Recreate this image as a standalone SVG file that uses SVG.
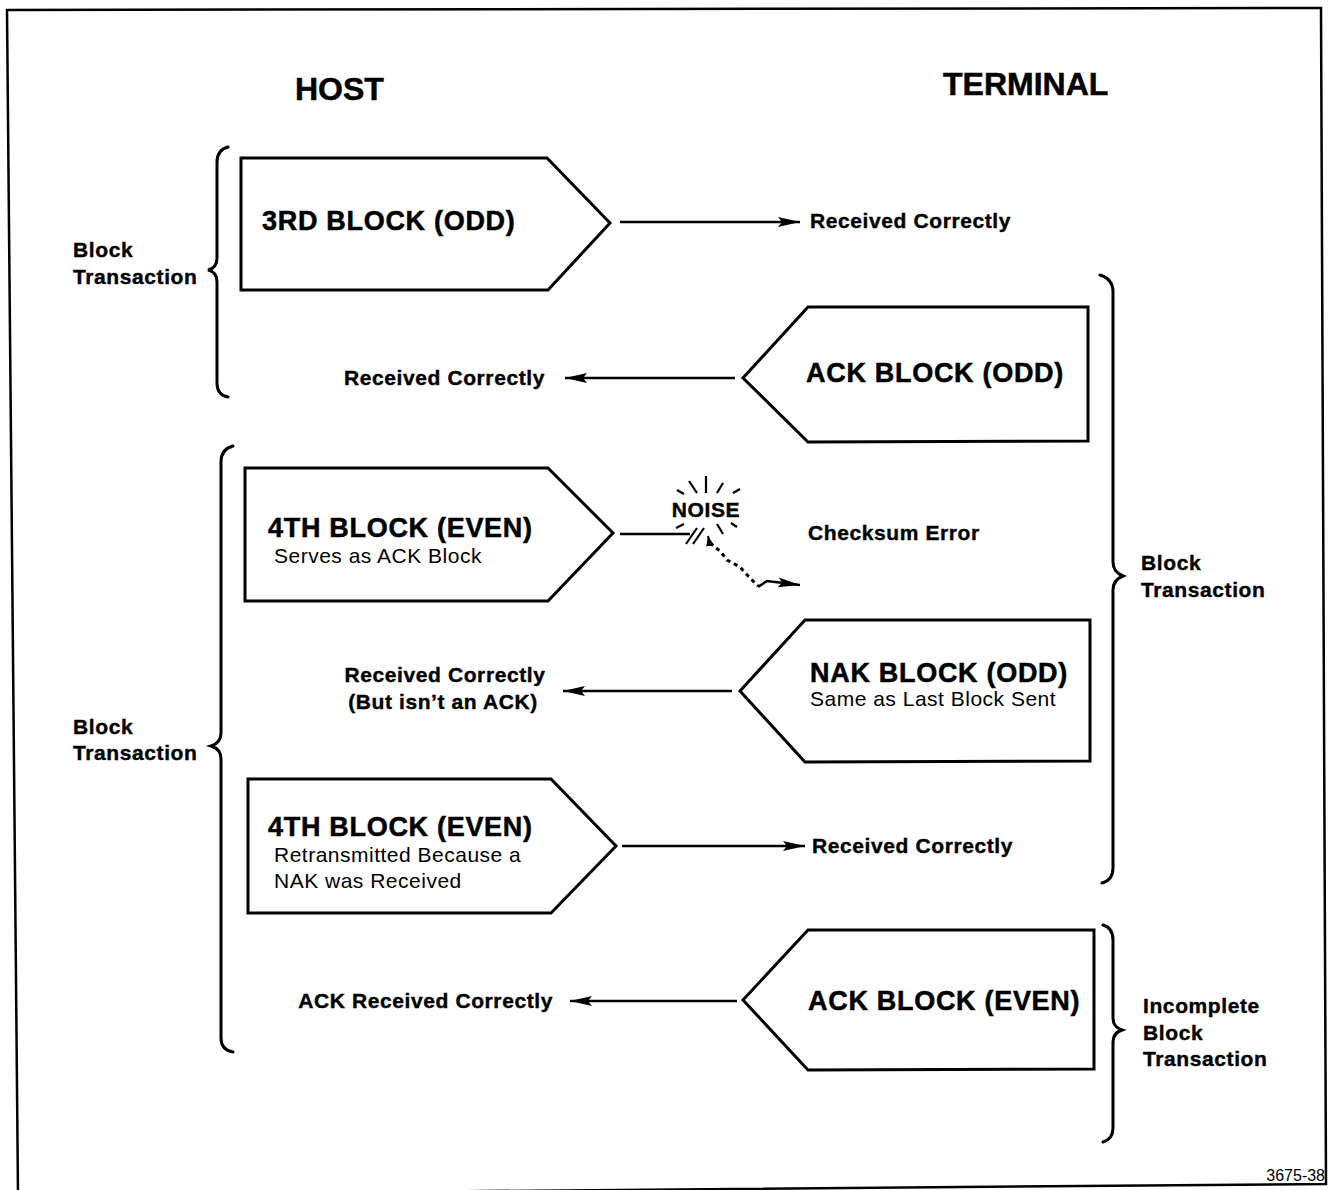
<svg xmlns="http://www.w3.org/2000/svg" width="1332" height="1190" viewBox="0 0 1332 1190">
<style>
.node{fill:#fff;stroke:#000;stroke-width:3;stroke-linejoin:miter}
.t1{font-family:"Liberation Sans",Arial,sans-serif;font-weight:bold;font-size:27px;letter-spacing:0.7px;fill:#000;stroke:#000;stroke-width:0.5}
.t2{font-family:"Liberation Sans",Arial,sans-serif;font-size:21px;letter-spacing:0.5px;fill:#000}
.lab{font-family:"Liberation Sans",Arial,sans-serif;font-weight:bold;font-size:21px;letter-spacing:0.6px;fill:#000;stroke:#000;stroke-width:0.4}
.hdr{font-family:"Liberation Sans",Arial,sans-serif;font-weight:bold;font-size:32px;fill:#000;stroke:#000;stroke-width:0.5}
.conn{stroke:#000;stroke-width:2.5;fill:none}
.brace{stroke:#000;stroke-width:3;fill:none;stroke-linecap:round}
.ray{stroke:#000;stroke-width:2.2;fill:none}
</style>
<defs>
<marker id="ah" markerUnits="userSpaceOnUse" markerWidth="24" markerHeight="12" refX="22" refY="5" orient="auto">
<path d="M0,0 L22,5 L0,10 L4,5 z" fill="#000"/>
</marker>
<marker id="ahs" markerUnits="userSpaceOnUse" markerWidth="12" markerHeight="10" refX="10" refY="4" orient="auto">
<path d="M0,0 L10,4 L0,8 z" fill="#000"/>
</marker>
</defs>
<rect width="1332" height="1190" fill="#fff"/>
<g id="frame">
<path d="M18,1195 L7,10 L1321,8 L1326,1184 L18,1195" fill="none" stroke="#000" stroke-width="2.5"/>
</g>
<g id="headers">
<text class="hdr" x="295" y="100">HOST</text>
<text class="hdr" x="943" y="95">TERMINAL</text>
</g>
<g id="host-3rd-block">
<path class="node" d="M241,158 L547,158 L610,223 L548,290 L241,290 Z"/>
<text class="t1" x="262" y="230">3RD BLOCK (ODD)</text>
</g>
<g id="term-ack-odd">
<path class="node" d="M808,307 L1088,307 L1088,441 L808,442 L743,378 Z"/>
<text class="t1" x="806" y="382">ACK BLOCK (ODD)</text>
</g>
<g id="host-4th-block-1">
<path class="node" d="M245,468 L548,468 L613,533 L548,601 L245,601 Z"/>
<text class="t1" x="268" y="537">4TH BLOCK (EVEN)</text>
<text class="t2" x="274" y="563">Serves as ACK Block</text>
</g>
<g id="term-nak-odd">
<path class="node" d="M805,620 L1090,620 L1090,761 L805,762 L740,691 Z"/>
<text class="t1" x="810" y="682">NAK BLOCK (ODD)</text>
<text class="t2" x="810" y="706">Same as Last Block Sent</text>
</g>
<g id="host-4th-block-2">
<path class="node" d="M248,779 L551,779 L616,846 L551,913 L248,913 Z"/>
<text class="t1" x="268" y="836">4TH BLOCK (EVEN)</text>
<text class="t2" x="274" y="862">Retransmitted Because a</text>
<text class="t2" x="274" y="888">NAK was Received</text>
</g>
<g id="term-ack-even">
<path class="node" d="M808,930 L1094,930 L1094,1069 L808,1070 L743,1000 Z"/>
<text class="t1" x="808" y="1010">ACK BLOCK (EVEN)</text>
</g>
<g id="connectors">
<line class="conn" x1="620" y1="222" x2="800" y2="222" marker-end="url(#ah)"/>
<line class="conn" x1="735" y1="378" x2="565" y2="378" marker-end="url(#ah)"/>
<line class="conn" x1="620" y1="534" x2="690" y2="534"/>
<line class="conn" x1="732" y1="691" x2="563" y2="691" marker-end="url(#ah)"/>
<line class="conn" x1="622" y1="846" x2="805" y2="846" marker-end="url(#ah)"/>
<line class="conn" x1="737" y1="1001" x2="570" y2="1001" marker-end="url(#ah)"/>
<line class="ray" x1="686" y1="544" x2="697" y2="528"/>
<line class="ray" x1="693" y1="544" x2="704" y2="528"/>
<path d="M758,587 L767,581 L800,585" class="conn" marker-end="url(#ah)"/>
<path d="M710,543 L720,551 L727,560 L740,567 L750,578 L758,586" stroke="#000" stroke-width="3" stroke-dasharray="4,4" fill="none"/>
<line x1="710" y1="545" x2="708" y2="536" stroke="#000" stroke-width="2" marker-end="url(#ahs)"/>
</g>
<g id="noise">
<text class="lab" x="706" y="517" text-anchor="middle" font-size="22">NOISE</text>
<line class="ray" x1="706" y1="476" x2="706" y2="493"/>
<line class="ray" x1="689" y1="481" x2="697" y2="493"/>
<line class="ray" x1="723" y1="483" x2="717" y2="493"/>
<line class="ray" x1="677" y1="490" x2="684" y2="494"/>
<line class="ray" x1="740" y1="489" x2="733" y2="493"/>
<line class="ray" x1="676" y1="528" x2="684" y2="524"/>
<line class="ray" x1="717" y1="524" x2="723" y2="534"/>
<line class="ray" x1="731" y1="523" x2="737" y2="527"/>
</g>
<g id="labels">
<text class="lab" x="810" y="228">Received Correctly</text>
<text class="lab" x="545" y="385" text-anchor="end">Received Correctly</text>
<text class="lab" x="808" y="540">Checksum Error</text>
<text class="lab" x="445" y="682" text-anchor="middle">Received Correctly</text>
<text class="lab" x="443" y="709" text-anchor="middle">(But isn’t an ACK)</text>
<text class="lab" x="812" y="853">Received Correctly</text>
<text class="lab" x="553" y="1008" text-anchor="end">ACK Received Correctly</text>
</g>
<g id="braces">
<path class="brace" d="M228,147 Q217,150 217,162 L217,258 Q217,268 208,270 Q217,272 217,282 L217,383 Q217,395 228,397"/>
<path class="brace" d="M233,446 Q221,449 221,462 L221,733 Q221,743 211,746 Q221,749 221,759 L221,1038 Q221,1050 233,1052"/>
<path class="brace" d="M1100,275 Q1113,279 1113,292 L1113,562 Q1113,572 1123,576 Q1113,580 1113,590 L1113,868 Q1113,880 1102,883"/>
<path class="brace" d="M1103,925 Q1113,928 1113,940 L1113,1018 Q1113,1027 1122,1030 Q1113,1033 1113,1042 L1113,1128 Q1113,1139 1103,1142"/>
</g>
<g id="brace-labels">
<text class="lab" x="73" y="257">Block</text>
<text class="lab" x="73" y="284">Transaction</text>
<text class="lab" x="73" y="734">Block</text>
<text class="lab" x="73" y="760">Transaction</text>
<text class="lab" x="1141" y="570">Block</text>
<text class="lab" x="1141" y="597">Transaction</text>
<text class="lab" x="1143" y="1013">Incomplete</text>
<text class="lab" x="1143" y="1040">Block</text>
<text class="lab" x="1143" y="1066">Transaction</text>
</g>
<text x="1325" y="1181" text-anchor="end" font-family="'Liberation Sans',Arial,sans-serif" font-size="16">3675-38</text>
</svg>
